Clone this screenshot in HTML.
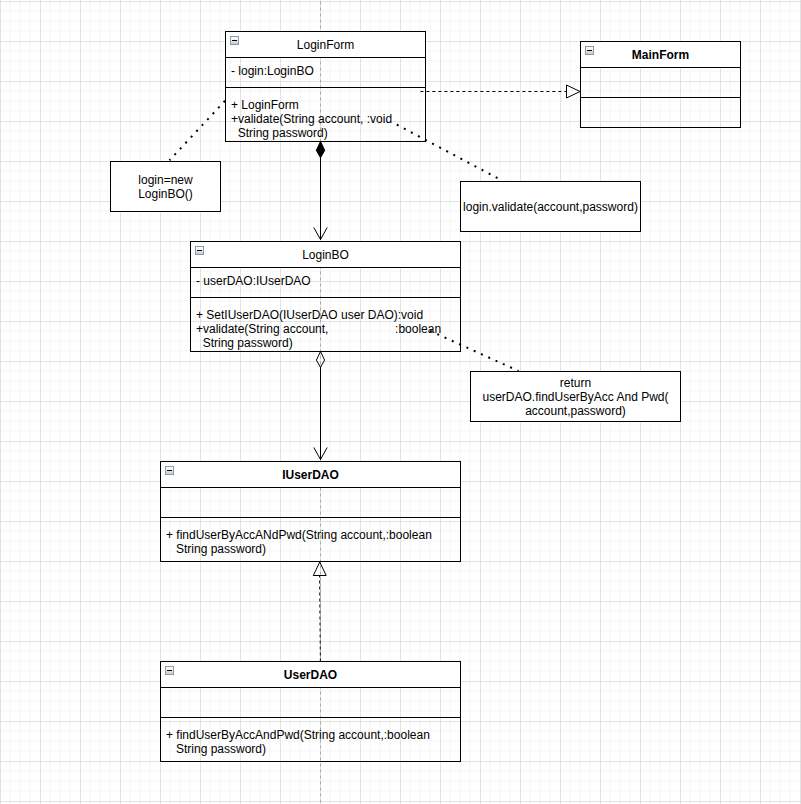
<!DOCTYPE html>
<html><head><meta charset="utf-8">
<style>
html,body{margin:0;padding:0;background:#fff;}
body{width:801px;height:804px;overflow:hidden;}
svg{display:block;}
text{font-family:"Liberation Sans",sans-serif;font-size:12px;fill:#000;}
</style></head><body>
<svg width="801" height="804" viewBox="0 0 801 804">
<defs><linearGradient id="ig" x1="0" y1="0" x2="0" y2="1"><stop offset="0" stop-color="#ffffff"/><stop offset="0.45" stop-color="#f4f4f4"/><stop offset="0.55" stop-color="#e2e2e2"/><stop offset="1" stop-color="#c8c8c8"/></linearGradient></defs>
<rect width="801" height="804" fill="#fff"/>
<path d="M10 0V804 M20 0V804 M30 0V804 M50 0V804 M60 0V804 M70 0V804 M90 0V804 M100 0V804 M110 0V804 M130 0V804 M140 0V804 M150 0V804 M170 0V804 M180 0V804 M190 0V804 M210 0V804 M220 0V804 M230 0V804 M250 0V804 M260 0V804 M270 0V804 M290 0V804 M300 0V804 M310 0V804 M330 0V804 M340 0V804 M350 0V804 M370 0V804 M380 0V804 M390 0V804 M410 0V804 M420 0V804 M430 0V804 M450 0V804 M460 0V804 M470 0V804 M490 0V804 M500 0V804 M510 0V804 M530 0V804 M540 0V804 M550 0V804 M570 0V804 M580 0V804 M590 0V804 M610 0V804 M620 0V804 M630 0V804 M650 0V804 M660 0V804 M670 0V804 M690 0V804 M700 0V804 M710 0V804 M730 0V804 M740 0V804 M750 0V804 M770 0V804 M780 0V804 M790 0V804 M0 11H801 M0 21H801 M0 31H801 M0 51H801 M0 61H801 M0 71H801 M0 91H801 M0 101H801 M0 111H801 M0 131H801 M0 141H801 M0 151H801 M0 171H801 M0 181H801 M0 191H801 M0 211H801 M0 221H801 M0 231H801 M0 251H801 M0 261H801 M0 271H801 M0 291H801 M0 301H801 M0 311H801 M0 331H801 M0 341H801 M0 351H801 M0 371H801 M0 381H801 M0 391H801 M0 411H801 M0 421H801 M0 431H801 M0 451H801 M0 461H801 M0 471H801 M0 491H801 M0 501H801 M0 511H801 M0 531H801 M0 541H801 M0 551H801 M0 571H801 M0 581H801 M0 591H801 M0 611H801 M0 621H801 M0 631H801 M0 651H801 M0 661H801 M0 671H801 M0 691H801 M0 701H801 M0 711H801 M0 731H801 M0 741H801 M0 751H801 M0 771H801 M0 781H801 M0 791H801" stroke="#f5f5f5" stroke-width="1" fill="none"/>
<path d="M0.5 0V804 M40.5 0V804 M80.5 0V804 M120.5 0V804 M160.5 0V804 M200.5 0V804 M240.5 0V804 M280.5 0V804 M320.5 0V804 M360.5 0V804 M400.5 0V804 M440.5 0V804 M480.5 0V804 M520.5 0V804 M560.5 0V804 M600.5 0V804 M640.5 0V804 M680.5 0V804 M720.5 0V804 M760.5 0V804 M800.5 0V804 M0 1.5H801 M0 41.5H801 M0 81.5H801 M0 121.5H801 M0 161.5H801 M0 201.5H801 M0 241.5H801 M0 281.5H801 M0 321.5H801 M0 361.5H801 M0 401.5H801 M0 441.5H801 M0 481.5H801 M0 521.5H801 M0 561.5H801 M0 601.5H801 M0 641.5H801 M0 681.5H801 M0 721.5H801 M0 761.5H801 M0 801.5H801" stroke="#d0d0d0" stroke-opacity="0.6" stroke-width="1" fill="none"/>
<path d="M320.5 0V804" stroke="#a8a8a8" stroke-dasharray="3 3" stroke-dashoffset="-1.5" fill="none"/>
<rect x="225.5" y="31.5" width="200" height="26" fill="#fff" stroke="none"/>
<rect x="225.5" y="31.5" width="200" height="110" fill="none" stroke="#000"/>
<path d="M225 57.5H426 M225 87.5H426" stroke="#000" fill="none"/>
<rect x="230.5" y="36.5" width="8" height="8" fill="url(#ig)" stroke="#8c98aa"/><rect x="232" y="40" width="5" height="1" fill="#000"/>
<text x="325.5" y="49" text-anchor="middle">LoginForm</text>
<rect x="580.5" y="41.5" width="160" height="26" fill="#fff" stroke="none"/>
<rect x="580.5" y="41.5" width="160" height="86" fill="none" stroke="#000"/>
<path d="M580 67.5H741 M580 97.5H741" stroke="#000" fill="none"/>
<rect x="585.5" y="46.5" width="8" height="8" fill="url(#ig)" stroke="#8c98aa"/><rect x="587" y="50" width="5" height="1" fill="#000"/>
<text x="660.5" y="59" text-anchor="middle" font-weight="bold">MainForm</text>
<rect x="190.5" y="241.5" width="270" height="26" fill="#fff" stroke="none"/>
<rect x="190.5" y="241.5" width="270" height="110" fill="none" stroke="#000"/>
<path d="M190 267.5H461 M190 297.5H461" stroke="#000" fill="none"/>
<rect x="195.5" y="246.5" width="8" height="8" fill="url(#ig)" stroke="#8c98aa"/><rect x="197" y="250" width="5" height="1" fill="#000"/>
<text x="325.5" y="259" text-anchor="middle">LoginBO</text>
<rect x="160.5" y="461.5" width="300" height="26" fill="#fff" stroke="none"/>
<rect x="160.5" y="461.5" width="300" height="100" fill="none" stroke="#000"/>
<path d="M160 487.5H461 M160 517.5H461" stroke="#000" fill="none"/>
<rect x="165.5" y="466.5" width="8" height="8" fill="url(#ig)" stroke="#8c98aa"/><rect x="167" y="470" width="5" height="1" fill="#000"/>
<text x="310.5" y="479" text-anchor="middle" font-weight="bold">IUserDAO</text>
<rect x="160.5" y="661.5" width="300" height="26" fill="#fff" stroke="none"/>
<rect x="160.5" y="661.5" width="300" height="100" fill="none" stroke="#000"/>
<path d="M160 687.5H461 M160 717.5H461" stroke="#000" fill="none"/>
<rect x="165.5" y="666.5" width="8" height="8" fill="url(#ig)" stroke="#8c98aa"/><rect x="167" y="670" width="5" height="1" fill="#000"/>
<text x="310.5" y="679" text-anchor="middle" font-weight="bold">UserDAO</text>
<rect x="110.5" y="161.5" width="110" height="50" fill="#fff" stroke="#000"/>
<rect x="460.5" y="181.5" width="180" height="50" fill="#fff" stroke="#000"/>
<rect x="470.5" y="371.5" width="210" height="50" fill="#fff" stroke="#000"/>
<text x="231" y="75" xml:space="preserve">- login:LoginBO</text>
<text x="231" y="108.5" xml:space="preserve">+ LoginForm</text>
<text x="231" y="122.5" xml:space="preserve">+validate(String account, :void</text>
<text x="231" y="136.5" xml:space="preserve">  String password)</text>
<text x="196" y="284.5" xml:space="preserve">- userDAO:IUserDAO</text>
<text x="196" y="319" xml:space="preserve">+ SetIUserDAO(IUserDAO user DAO):void</text>
<text x="196" y="333" xml:space="preserve">+validate(String account,                    :boolean</text>
<text x="196" y="347" xml:space="preserve">  String password)</text>
<text x="166" y="538.5" xml:space="preserve">+ findUserByAccANdPwd(String account,:boolean</text>
<text x="166" y="552.5" xml:space="preserve">   String password)</text>
<text x="166" y="738.5" xml:space="preserve">+ findUserByAccAndPwd(String account,:boolean</text>
<text x="166" y="752.5" xml:space="preserve">   String password)</text>
<text x="165.5" y="183.5" text-anchor="middle" xml:space="preserve">login=new</text>
<text x="165.5" y="197.5" text-anchor="middle" xml:space="preserve">LoginBO()</text>
<text x="550.5" y="210.5" text-anchor="middle" xml:space="preserve">login.validate(account,password)</text>
<text x="575.5" y="387" text-anchor="middle" xml:space="preserve">return</text>
<text x="575.5" y="401" text-anchor="middle" xml:space="preserve">userDAO.findUserByAcc And Pwd(</text>
<text x="575.5" y="415" text-anchor="middle" xml:space="preserve">account,password)</text>
<g stroke="#000" stroke-width="2" stroke-dasharray="2 6" fill="none"><path d="M225 100.8L169.5 160.3"/><path d="M396.8 124.65L502.3 180.65"/><path d="M430 330.8L518.5 371"/></g>
<path d="M420.4 91.5H566" stroke="#000" stroke-dasharray="3 3" fill="none"/>
<path d="M566.5 85L580 91.5L566.5 98Z" stroke="#000" fill="none"/>
<path d="M320.5 157V240" stroke="#000" fill="none"/>
<path d="M320.5 141.5L324.7 150.3L320.5 157.8L316.3 150.3Z" stroke="#000" fill="#000"/>
<path d="M313.8 227.5L320.5 239.5L327.2 227.5" stroke="#000" fill="none"/>
<path d="M320.5 367V460" stroke="#000" fill="none"/>
<path d="M320.5 351.5L324.6 360.1L320.5 367.4L316.4 360.1Z" stroke="#000" fill="none"/>
<path d="M313.8 447.5L320.5 459.5L327.2 447.5" stroke="#000" fill="none"/>
<path d="M320.4 661.5L319.6 575.5" stroke="#000" stroke-dasharray="3 3" fill="none"/>
<path d="M319.75 562L326.2 575.5L313.3 575.5Z" stroke="#000" fill="none"/>
</svg>
</body></html>
